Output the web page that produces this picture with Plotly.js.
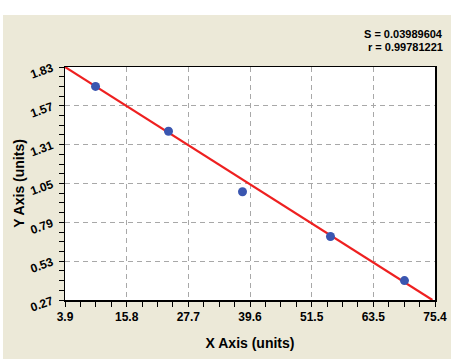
<!DOCTYPE html>
<html>
<head>
<meta charset="utf-8">
<script src="https://cdn.plot.ly/plotly-3.0.1.min.js"></script>
<style>
html,body{margin:0;padding:0;background:#ffffff;width:465px;height:361px;overflow:hidden;}
#chart{position:absolute;left:3px;top:15px;width:448px;height:344px;}
</style>
</head>
<body>
<div id="chart"></div>
<script>
// Data
var xValues = [9.8, 23.9, 38.2, 55.2, 69.5];
var yValues = [1.70, 1.40, 0.995, 0.695, 0.40];
var fitX = [3.9, 74.9];
var fitY = [1.83, 0.27];
var xTickLabels = ['3.9', '15.8', '27.7', '39.6', '51.5', '63.5', '75.4'];
var yTickLabels = ['1.83', '1.57', '1.31', '1.05', '0.79', '0.53', '0.27'];
var statS = 'S = 0.03989604';
var statR = 'r = 0.99781221';

var xMin = 3.9, xMax = 75.4, yMin = 0.27, yMax = 1.83;
var xStep = (xMax - xMin) / (xTickLabels.length - 1);
var xTickVals = xTickLabels.map(function (_, i) { return xMin + i * xStep; });
var yTickVals = yTickLabels.map(function (t) { return parseFloat(t); });
var yStep = 0.26;

var font = 'Arial, "Liberation Sans", sans-serif';

var traces = [
  {
    x: fitX, y: fitY, mode: 'lines', type: 'scatter',
    line: {color: '#ee2020', width: 2.2},
    hoverinfo: 'skip', cliponaxis: true
  },
  {
    x: xValues, y: yValues, mode: 'markers', type: 'scatter',
    marker: {color: '#3a56b0', size: 9, line: {width: 0}},
    cliponaxis: false
  }
];

var axisCommon = {
  showline: true, linecolor: '#000', linewidth: 1.5, mirror: true,
  ticks: 'outside', ticklen: 5, tickwidth: 1, tickcolor: '#000',
  showgrid: true, gridcolor: '#a8a8a8', griddash: '5px,4px', gridwidth: 1,
  zeroline: false,
  tickfont: {family: font, size: 12, color: '#000', weight: 'bold'},
  tickmode: 'array'
};

var layout = {
  width: 448, height: 344,
  margin: {l: 62, r: 16, t: 52, b: 59},
  paper_bgcolor: '#ece9d8',
  plot_bgcolor: '#ffffff',
  showlegend: false,
  xaxis: Object.assign({}, axisCommon, {
    range: [xMin, xMax],
    tickvals: xTickVals, ticktext: xTickLabels,
    ticklabelstandoff: 0,
    minor: {tickmode: 'linear', tick0: xMin, dtick: xStep / 4, ticks: 'outside', ticklen: 5, tickcolor: '#000', showgrid: false},
    title: {text: 'X Axis (units)', font: {family: font, size: 14, color: '#000', weight: 'bold'}, standoff: 15}
  }),
  yaxis: Object.assign({}, axisCommon, {
    range: [yMin, yMax],
    tickvals: yTickVals, ticktext: yTickLabels,
    tickangle: -20,
    ticklabelstandoff: 4,
    minor: {tickmode: 'linear', tick0: yMin, dtick: yStep / 4, ticks: 'outside', ticklen: 5, tickcolor: '#000', showgrid: false},
    title: {text: 'Y Axis (units)', font: {family: font, size: 14, color: '#000', weight: 'bold'}, standoff: 0}
  }),
  annotations: [
    {text: statS, xref: 'paper', yref: 'paper', x: 1.027, y: 1.1416, xanchor: 'right', yanchor: 'middle',
     showarrow: false, font: {family: font, size: 11, color: '#000', weight: 'bold'}},
    {text: statR, xref: 'paper', yref: 'paper', x: 1.027, y: 1.0858, xanchor: 'right', yanchor: 'middle',
     showarrow: false, font: {family: font, size: 11, color: '#000', weight: 'bold'}}
  ]
};

Plotly.newPlot('chart', traces, layout, {displayModeBar: false, staticPlot: true});
</script>
</body>
</html>
